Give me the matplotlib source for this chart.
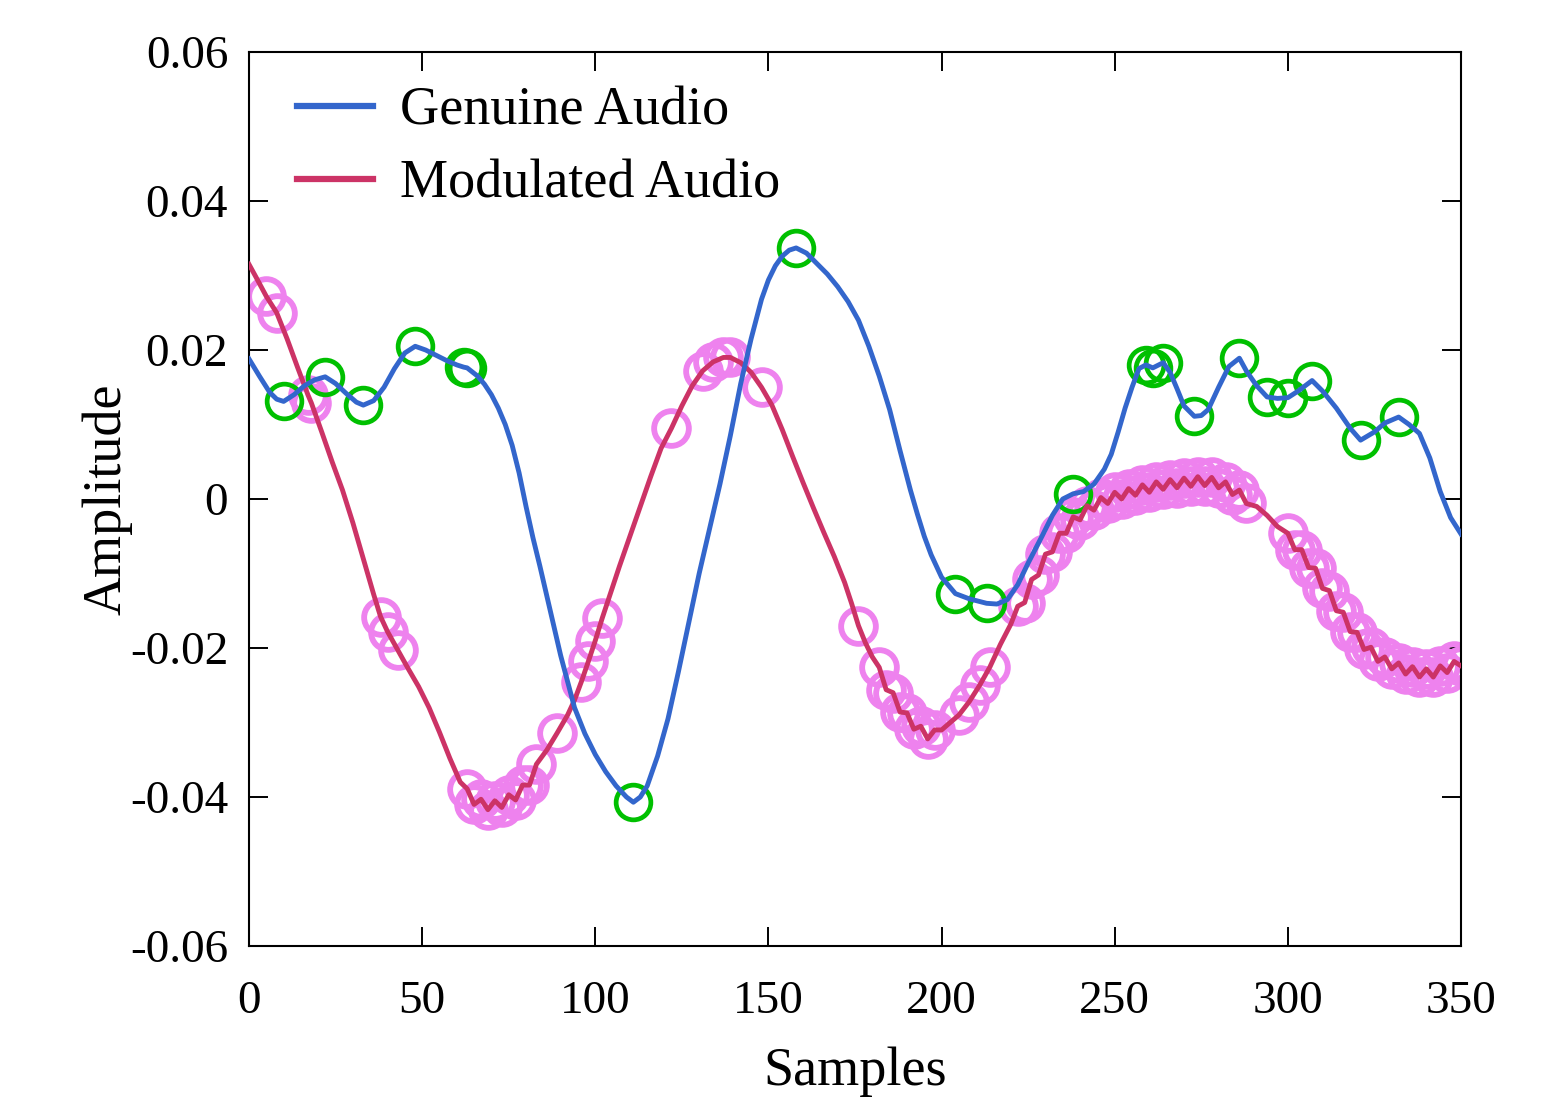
import numpy as np
import matplotlib
matplotlib.use("Agg")
from matplotlib import pyplot as plt
from matplotlib.lines import Line2D

plt.rcParams['font.family'] = ['Liberation Serif', 'DejaVu Serif']
plt.rcParams['axes.unicode_minus'] = False

# genuine audio
gen_x = [0, 3, 6, 8, 10, 13, 16, 19, 22, 25, 28, 31, 33, 36, 39, 42, 45, 48, 51, 54, 57, 60, 62, 63,
         66, 68, 70, 72, 74, 76, 78, 80, 82, 84, 87, 90, 94, 97, 100, 103, 106, 109, 111, 113, 115, 118, 121, 124,
         127, 130, 133, 136, 139, 142, 145, 148, 150, 152, 154, 156, 158, 161, 164, 167, 170, 173, 176, 179,
         182, 185, 188, 191, 193, 195, 197, 200, 204, 208, 213, 216, 219, 222, 225, 229, 232, 235, 238, 241,
         244, 247, 249, 251, 253, 255, 257, 259, 261, 264, 266, 268, 270, 273, 275, 277, 280, 283, 286,
         288, 291, 294, 297, 300, 303, 307, 310, 314, 318, 321, 325, 328, 332, 335, 338, 341, 344, 347, 350]
gen_y = [0.0188, 0.0165, 0.0143, 0.0134, 0.0131, 0.0140, 0.0152, 0.0160, 0.0164, 0.0155, 0.0142, 0.0130,
         0.0126, 0.0132, 0.0150, 0.0175, 0.0196, 0.0205, 0.0200, 0.0193, 0.0186, 0.0180, 0.0177, 0.0176,
         0.0165, 0.0154, 0.0140, 0.0122, 0.0100, 0.0072, 0.0035, -0.0010, -0.0052, -0.0090, -0.0150,
         -0.0210, -0.0280, -0.0315, -0.0343, -0.0366, -0.0385, -0.0400, -0.0407, -0.0400, -0.0385,
         -0.0345, -0.0295, -0.0232, -0.0166, -0.0100, -0.0040, 0.0020, 0.0085, 0.0155, 0.0215, 0.0268,
         0.0294, 0.0313, 0.0326, 0.0334, 0.0337, 0.0330, 0.0316, 0.0302, 0.0285, 0.0265, 0.0240, 0.0205,
         0.0165, 0.0120, 0.0065, 0.0012, -0.0020, -0.0050, -0.0075, -0.0105, -0.0127, -0.0134, -0.0140,
         -0.0141, -0.0135, -0.0115, -0.0086, -0.0050, -0.0022, 0.0000, 0.0007, 0.0010, 0.0020, 0.0040,
         0.0060, 0.0090, 0.0122, 0.0150, 0.0175, 0.0180, 0.0176, 0.0183, 0.0170, 0.0148, 0.0125, 0.0111,
         0.0112, 0.0120, 0.0150, 0.0178, 0.0189, 0.0172, 0.0152, 0.0137, 0.0135, 0.0136, 0.0145, 0.0159,
         0.0145, 0.0122, 0.0095, 0.0079, 0.0090, 0.0102, 0.0110, 0.0100, 0.0088, 0.0055, 0.0010, -0.0025,
         -0.0047]
gen_marks = [10, 22, 33, 48, 62, 63, 111, 158, 204, 213, 238, 259, 261, 264, 273, 286, 294, 300,
             307, 321, 332]

# modulated audio
mod_x = [0, 2, 5, 8, 11, 14, 17, 18, 21, 24, 27, 30, 33, 36, 38, 40, 43, 46, 49, 52, 55, 58, 61,
         63, 65, 67, 69, 71, 73, 75, 77, 79, 81, 83, 86, 89, 92, 94, 96, 98, 100, 102, 104, 107, 110,
         113, 116, 119, 122, 125, 128, 131, 134, 137, 139, 142, 145, 148, 151, 154, 157, 160, 163, 166,
         169, 172, 174, 176, 178, 180, 182, 184, 186, 188, 190, 192, 194, 196, 198, 200, 202, 205, 208,
         211, 214, 217, 220, 222, 224, 226, 228, 230, 232, 234, 236, 238, 240, 242, 244, 246, 248, 250,
         252, 254, 256, 258, 260, 262, 264, 266, 268, 270, 272, 274, 276, 278, 280, 282, 284, 286, 288,
         291, 294, 297, 300, 302, 304, 306, 308, 310, 312, 314, 316, 318, 320, 322, 324, 326, 328, 330,
         332, 334, 336, 338, 340, 342, 344, 346, 348, 350]
mod_y = [0.0315, 0.0298, 0.0272, 0.0250, 0.0215, 0.0177, 0.0140, 0.0129, 0.0090, 0.0050, 0.0012,
         -0.0032, -0.0080, -0.0128, -0.0158, -0.0178, -0.0203, -0.0228, -0.0252, -0.0280, -0.0313,
         -0.0348, -0.0380,
         -0.0389, -0.0410, -0.0403, -0.0417, -0.0405, -0.0414, -0.0397, -0.0404, -0.0384, -0.0384,
         -0.0356, -0.0337, -0.0314, -0.0290, -0.0270, -0.0245, -0.0218, -0.0190, -0.0160, -0.0132,
         -0.0090, -0.0050, -0.0010, 0.0030, 0.0068, 0.0095, 0.0125, 0.0152, 0.0172, 0.0184, 0.0190,
         0.0190, 0.0183, 0.0170, 0.0150, 0.0126, 0.0093, 0.0057, 0.0022, -0.0012, -0.0045, -0.0077,
         -0.0112, -0.0140, -0.0170, -0.0193, -0.0212,
         -0.0226, -0.0256, -0.0260, -0.0286, -0.0287, -0.0309, -0.0305, -0.0322, -0.0310,
         -0.0310, -0.0302, -0.0290, -0.0272, -0.0250, -0.0225, -0.0195, -0.0168,
         -0.0144, -0.0139, -0.0108, -0.0102, -0.0074, -0.0071, -0.0046, -0.0046, -0.0024, -0.0028,
         -0.0009, -0.0015, 0.0002, -0.0006, 0.0009, 0.0000, 0.0014, 0.0005, 0.0019, 0.0009, 0.0023,
         0.0013, 0.0026, 0.0015, 0.0028, 0.0017, 0.0030, 0.0018, 0.0029, 0.0015, 0.0023, 0.0006,
         0.0012, -0.0006,
         -0.0010, -0.0022, -0.0037,
         -0.0046, -0.0068, -0.0068, -0.0092, -0.0093, -0.0120, -0.0123, -0.0150, -0.0152, -0.0178,
         -0.0179, -0.0202, -0.0199, -0.0218, -0.0212, -0.0228, -0.0220, -0.0235, -0.0225, -0.0239,
         -0.0228, -0.0239, -0.0224, -0.0233, -0.0218, -0.0224]
mod_marks = ([5, 8, 17, 18, 38, 40, 43] + list(range(63, 84, 2)) + [89, 96, 98, 100, 102, 122,
             131, 134, 137, 139, 148, 176] + list(range(182, 199, 2)) + [205, 208, 211, 214]
             + list(range(222, 289, 2)) + list(range(300, 351, 2)))

x_ticks = [0, 50, 100, 150, 200, 250, 300, 350]
y_ticks = [-0.06, -0.04, -0.02, 0, 0.02, 0.04, 0.06]
y_labels = ['-0.06', '-0.04', '-0.02', '0', '0.02', '0.04', '0.06']

blue = '#3366cc'
red = '#cc3366'
green = '#00c000'
violet = '#ee82ee'

gen_x = np.array(gen_x)
gen_y = np.array(gen_y)
mod_x = np.array(mod_x)
mod_y = np.array(mod_y)
gm = np.isin(gen_x, gen_marks)
mm = np.isin(mod_x, mod_marks)

fig = plt.figure(figsize=(15.67, 11.01), dpi=100)
ax = fig.add_axes([249 / 1567, 1 - 946 / 1101, 1212 / 1567, 894 / 1101])

ax.plot(mod_x[mm], mod_y[mm], 'o', ms=25, mfc='none', mec=violet, mew=4.2, zorder=2)
ax.plot(gen_x[gm], gen_y[gm], 'o', ms=25, mfc='none', mec=green, mew=3.4, zorder=3)
ax.plot(mod_x, mod_y, color=red, lw=3.5, zorder=4)
ax.plot(gen_x, gen_y, color=blue, lw=3.5, zorder=5)

ax.set_xlim(0, 350)
ax.set_ylim(-0.06, 0.06)
ax.set_xticks(x_ticks)
ax.set_yticks(y_ticks)
ax.set_yticklabels(y_labels)
ax.tick_params(direction='in', length=14, width=1.4, top=True, right=True, labelsize=34)
ax.tick_params(axis='x', pad=25)
ax.tick_params(axis='y', pad=15)
for s in ax.spines.values():
    s.set_linewidth(1.5)

ax.set_xlabel('Samples', fontsize=39, labelpad=17)
ax.set_ylabel('Amplitude', fontsize=39, labelpad=-2)

handles = [Line2D([], [], color=blue, lw=4.5), Line2D([], [], color=red, lw=4.5)]
ax.legend(handles, ['Genuine Audio', 'Modulated Audio'], loc='upper left', frameon=False,
          fontsize=39, handlelength=1.4, handletextpad=0.5, labelspacing=0.42,
          borderpad=0, borderaxespad=0, bbox_to_anchor=(0.04, 0.962))

plt.savefig('out.png', dpi=100)
